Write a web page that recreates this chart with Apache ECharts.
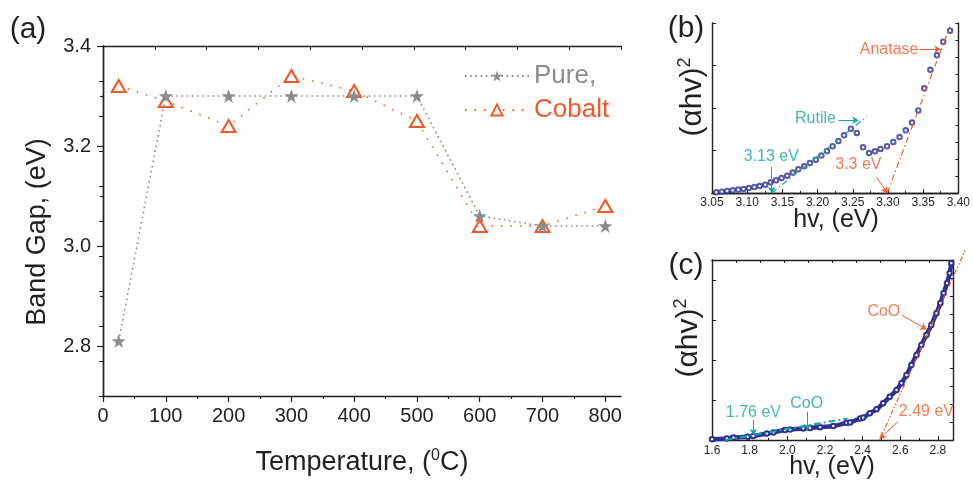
<!DOCTYPE html>
<html><head><meta charset="utf-8">
<script src="https://cdn.jsdelivr.net/npm/echarts@6.0.0/dist/echarts.min.js"></script>
<style>html,body{margin:0;padding:0;background:#fff}#c{width:973px;height:485px}</style>
</head><body><div id="c"></div>
<script>
// ---------- Panel (a) data ----------
const temperatures = [25, 100, 200, 300, 400, 500, 600, 700, 800];
const pureGap   = [2.81, 3.30, 3.30, 3.30, 3.30, 3.30, 3.06, 3.04, 3.04];
const cobaltGap = [3.32, 3.29, 3.24, 3.34, 3.31, 3.25, 3.04, 3.04, 3.08];
const xTicksA = [0, 100, 200, 300, 400, 500, 600, 700, 800];
const xMinorA = [50, 150, 250, 350, 450, 550, 650, 750];
const yTicksA = [2.8, 3.0, 3.2, 3.4];
const yMinorA = [2.7, 2.9, 3.1, 3.3];

// ---------- Panel (b) data ----------
const bHv = [3.0561,3.0640,3.0715,3.0794,3.0873,3.0948,3.1023,3.1102,3.1177,3.1256,3.1335,3.1410,3.1489,3.1569,3.1648,3.1727,3.1811,3.1891,3.1975,3.2054,3.2133,3.2213,3.2297,3.2376,3.2474,3.2558,3.2647,3.2731,3.2815,3.2894,3.2987,3.3076,3.3165,3.3253,3.3342,3.3431,3.3515,3.3603,3.3697,3.3785,3.3883];
const bAbs = [0.04,0.08,0.12,0.16,0.20,0.24,0.29,0.35,0.41,0.49,0.63,0.75,0.88,1.02,1.20,1.39,1.57,1.76,1.96,2.20,2.47,2.75,3.06,3.39,3.78,3.53,2.69,2.35,2.45,2.59,2.75,3.00,3.29,3.69,4.14,4.86,6.16,7.25,8.10,8.90,9.55];
const bRutileFitX = [3.135, 3.27];
const bRutileFitY = [0, 4.5];
const bAnataseFitX = [3.299, 3.388];
const bAnataseFitY = [0, 9.8];
const bLabels = ['Anatase', 'Rutile', '3.13 eV', '3.3 eV'];
const bLabelX = [3.3016, 3.197, 3.1343, 3.258];
const bLabelY = [8.45, 4.38, 2.12, 1.69];
const bArrowFrom = [[3.345, 8.45], [3.2299, 4.28], [3.1348, 1.53], [3.2838, 0.94]];
const bArrowTo   = [[3.3747, 8.45], [3.258, 4.28], [3.1348, 0.0], [3.2992, 0.0]];

// ---------- Panel (c) data ----------
const cHv = [1.600,1.679,1.714,1.789,1.820,1.891,1.926,1.988,2.015,2.085,2.121,2.174,2.244,2.315,2.333,2.387,2.403,2.438,2.474,2.509,2.544,2.580,2.606,2.633,2.659,2.686,2.712,2.739,2.765,2.792,2.813,2.830,2.848,2.862,2.871];
const cAbs = [0.02,0.04,0.06,0.08,0.10,0.16,0.19,0.25,0.26,0.29,0.30,0.32,0.35,0.43,0.44,0.54,0.56,0.67,0.77,0.92,1.08,1.25,1.42,1.625,1.875,2.125,2.375,2.625,2.875,3.17,3.42,3.67,3.92,4.17,4.42];
const cLowFitX = [1.67, 2.32];
const cLowFitY = [0, 0.54];
const cHighFitX = [2.49, 2.947];
const cHighFitY = [0, 4.77];
const cLabels = ['CoO', 'CoO', '1.76 eV', '2.49 eV'];
const cLabelX = [2.5126, 2.103, 1.82, 2.739];
const cLabelY = [3.21, 0.92, 0.68, 0.71];
const cArrowFrom = [[2.606, 3.125], [2.108, 0.71], [1.82, 0.5], [2.588, 0.46]];
const cArrowTo   = [[2.739, 2.77], [2.108, 0.25], [1.82, 0.125], [2.491, 0.04]];
const xTicksC = [1.6, 1.8, 2.0, 2.2, 2.4, 2.6, 2.8];
const xMinorC = [1.7, 1.9, 2.1, 2.3, 2.5, 2.7];

// ---------- styling ----------
const FONT = 'Liberation Sans, Arial, Helvetica, sans-serif';
const GRAY = '#8c8c8e';
const ORANGE = '#f05a28';
const TEAL = '#17a59c';
const BLUE = '#2e3192';
const INK = '#231f20';
const bLabelColors = [ORANGE, TEAL, TEAL, ORANGE];
const cLabelColors = [ORANGE, TEAL, TEAL, ORANGE];
const STAR = 'path://M50,0 L61.8,35.1 L98.9,35.5 L69.1,57.6 L80.2,93 L50,71.6 L19.8,93 L30.9,57.6 L1.1,35.5 L38.2,35.1 Z';

const zip = (a, b) => a.map((v, i) => [v, b[i]]);
const lineAx = { show: true, lineStyle: { color: INK, width: 1.4 } };
const noLine = { show: false };

function frameAxis(extra) {
  return Object.assign({
    type: 'value', min: 0, max: 10, interval: 1,
    axisLine: lineAx, axisLabel: { show: false }, splitLine: { show: false },
    axisTick: { show: true, inside: true, length: 3, lineStyle: { color: INK } }
  }, extra);
}

const xAxis = [
  // (a) bottom
  { gridIndex: 0, type: 'value', min: 0, max: 825, position: 'bottom',
    axisLine: lineAx, splitLine: { show: false },
    axisTick: { show: true, inside: false, length: 6, customValues: xTicksA, lineStyle: { color: INK, width: 1.2 } },
    axisLabel: { customValues: xTicksA, fontSize: 20, margin: 10, color: INK, fontFamily: FONT } },
  { gridIndex: 0, type: 'value', min: 0, max: 825, position: 'bottom',
    axisLine: noLine, splitLine: { show: false }, axisLabel: { show: false },
    axisTick: { show: true, inside: false, length: 3, customValues: xMinorA, lineStyle: { color: INK, width: 1.2 } } },
  frameAxis({ gridIndex: 0, position: 'top', axisTick: { show: true, inside: true, length: 4, lineStyle: { color: INK } } }),
  // (b) bottom
  { gridIndex: 1, type: 'value', min: 3.05, max: 3.40, interval: 0.05, position: 'bottom',
    axisLine: lineAx, splitLine: { show: false },
    axisTick: { show: true, inside: true, length: 4, lineStyle: { color: INK } },
    minorTick: { show: true, splitNumber: 2, length: 2, lineStyle: { color: INK } },
    axisLabel: { fontSize: 12, margin: 4, color: INK, fontFamily: FONT, formatter: v => v.toFixed(2) } },
  frameAxis({ gridIndex: 1, position: 'top', axisTick: { show: false } }),
  // (c) bottom
  { gridIndex: 2, type: 'value', min: 1.6, max: 2.88, position: 'bottom',
    axisLine: lineAx, splitLine: { show: false },
    axisTick: { show: true, inside: true, length: 4, customValues: xTicksC, lineStyle: { color: INK } },
    axisLabel: { customValues: xTicksC, fontSize: 12, margin: 5, color: INK, fontFamily: FONT, formatter: v => v.toFixed(1) } },
  { gridIndex: 2, type: 'value', min: 1.6, max: 2.88, position: 'bottom',
    axisLine: noLine, splitLine: { show: false }, axisLabel: { show: false },
    axisTick: { show: true, inside: true, length: 2, customValues: xMinorC, lineStyle: { color: INK } } },
  frameAxis({ gridIndex: 2, position: 'top' })
];

const yAxis = [
  // (a)
  { gridIndex: 0, type: 'value', min: 2.7, max: 3.4, position: 'left',
    axisLine: lineAx, splitLine: { show: false },
    axisTick: { show: true, inside: false, length: 6, customValues: yTicksA, lineStyle: { color: INK, width: 1.2 } },
    axisLabel: { customValues: yTicksA, fontSize: 20, margin: 12, color: INK, fontFamily: FONT, formatter: v => v.toFixed(1) } },
  { gridIndex: 0, type: 'value', min: 2.7, max: 3.4, position: 'left',
    axisLine: noLine, splitLine: { show: false }, axisLabel: { show: false },
    axisTick: { show: true, inside: false, length: 3, customValues: yMinorA, lineStyle: { color: INK, width: 1.2 } } },
  frameAxis({ gridIndex: 0, position: 'right', axisTick: { show: true, inside: true, length: 4, lineStyle: { color: INK } } }),
  // (b)
  frameAxis({ gridIndex: 1, position: 'left', interval: 2.5, axisTick: { show: true, inside: true, length: 4, lineStyle: { color: INK } } }),
  frameAxis({ gridIndex: 1, position: 'right' }),
  // (c)
  frameAxis({ gridIndex: 2, position: 'left', max: 4.5, interval: 1, axisTick: { show: true, inside: true, length: 4, lineStyle: { color: INK } } }),
  frameAxis({ gridIndex: 2, position: 'right' })
];

function labelSeries(xi, yi, texts, xs, ys, colors) {
  return {
    type: 'scatter', xAxisIndex: xi, yAxisIndex: yi, symbolSize: 0, silent: true, z: 10,
    data: texts.map((t, i) => ({
      value: [xs[i], ys[i], t],
      label: { show: true, position: 'inside', formatter: p => p.value[2], color: colors[i], fontSize: 16, fontFamily: FONT }
    }))
  };
}
function arrowSeries(xi, yi, from, to, colors) {
  return {
    type: 'lines', coordinateSystem: 'cartesian2d', xAxisIndex: xi, yAxisIndex: yi, z: 10,
    symbol: ['none', 'arrow'], symbolSize: 6, silent: true, clip: false,
    data: from.map((f, i) => ({ coords: [f, to[i]], lineStyle: { color: colors[i], width: 1, opacity: 1, curveness: 0 } }))
  };
}
function fitSeries(xi, yi, xs, ys, color, width, dash) {
  return {
    type: 'lines', coordinateSystem: 'cartesian2d', xAxisIndex: xi, yAxisIndex: yi, clip: false, silent: true, z: 6,
    symbol: 'none',
    data: [{ coords: zip(xs, ys) }],
    lineStyle: { color: color, width: width, type: dash, opacity: 1, curveness: 0 }
  };
}

const series = [
  { name: 'Cobalt', type: 'line', xAxisIndex: 0, yAxisIndex: 0, data: zip(temperatures, cobaltGap),
    symbol: 'emptyTriangle', symbolSize: [14, 12], z: 3,
    itemStyle: { color: ORANGE, borderColor: ORANGE, borderWidth: 1.6 },
    lineStyle: { color: ORANGE, width: 1.6, type: [1.5, 8] } },
  { name: 'Pure,', type: 'line', xAxisIndex: 0, yAxisIndex: 0, data: zip(temperatures, pureGap),
    symbol: STAR, symbolSize: 14, z: 4,
    itemStyle: { color: GRAY },
    lineStyle: { color: GRAY, width: 1.6, type: [1.6, 3.6] } },
  // (b)
  fitSeries(3, 3, bRutileFitX, bRutileFitY, TEAL, 1.2, [6, 3, 1.5, 3]),
  fitSeries(3, 3, bAnataseFitX, bAnataseFitY, ORANGE, 1.2, [6, 3, 1.5, 3]),
  { type: 'scatter', xAxisIndex: 3, yAxisIndex: 3, data: zip(bHv, bAbs), symbol: 'emptyCircle', symbolSize: 4.5, z: 5,
    itemStyle: { color: BLUE, borderColor: BLUE, borderWidth: 0.9 } },
  arrowSeries(3, 3, bArrowFrom, bArrowTo, bLabelColors),
  labelSeries(3, 3, bLabels, bLabelX, bLabelY, bLabelColors),
  // (c)
  fitSeries(5, 5, cLowFitX, cLowFitY, TEAL, 2, [7, 3, 2, 3]),
  fitSeries(5, 5, cHighFitX, cHighFitY, ORANGE, 1.2, [5, 2, 1.5, 2, 1.5, 2]),
  { type: 'line', xAxisIndex: 5, yAxisIndex: 5, data: zip(cHv, cAbs), smooth: true, showAllSymbol: true,
    symbol: 'emptyCircle', symbolSize: 4.5, z: 5,
    itemStyle: { color: BLUE, borderColor: BLUE, borderWidth: 1 },
    lineStyle: { color: BLUE, width: 4.5 } },
  arrowSeries(5, 5, cArrowFrom, cArrowTo, cLabelColors),
  labelSeries(5, 5, cLabels, cLabelX, cLabelY, cLabelColors)
];

const titleStyle = (text, size, extra) => Object.assign({ text, font: size + 'px ' + FONT, fill: INK, align: 'center', verticalAlign: 'middle' }, extra || {});
const supTitle = (size, supSize) => ({
  text: '(αhv){sup|2}', fill: INK, align: 'center', verticalAlign: 'middle', fontSize: size, fontFamily: FONT,
  rich: { sup: { fontSize: supSize, fontFamily: FONT, fill: INK, verticalAlign: 'top', lineHeight: size + 4 } }
});
const graphic = [
  { type: 'text', x: 28, y: 30, style: titleStyle('(a)', 30) },
  { type: 'text', x: 686, y: 29, style: titleStyle('(b)', 30) },
  { type: 'text', x: 686, y: 266, style: titleStyle('(c)', 30) },
  { type: 'text', x: 38, y: 232, rotation: Math.PI / 2, style: titleStyle('Band Gap, (eV)', 27) },
  { type: 'text', x: 362, y: 463, style: {
      text: 'Temperature, ({sup|0}C)', fill: INK, align: 'center', verticalAlign: 'middle',
      fontSize: 27, fontFamily: FONT, rich: { sup: { fontSize: 16, fontFamily: FONT, fill: INK, verticalAlign: 'top', lineHeight: 30 } } } },
  { type: 'text', x: 836, y: 220, style: titleStyle('hv, (eV)', 25) },
  { type: 'text', x: 832, y: 467, style: titleStyle('hv, (eV)', 25) },
  { type: 'text', x: 693, y: 97, rotation: Math.PI / 2, style: supTitle(30, 18) },
  { type: 'text', x: 689, y: 338, rotation: Math.PI / 2, style: supTitle(30, 18) }
];

const chart = echarts.init(document.getElementById('c'), null, { renderer: 'canvas' });
chart.setOption({
  backgroundColor: '#fff',
  animation: false,
  grid: [
    { left: 103, top: 46, width: 518, height: 350 },
    { left: 712, top: 23, width: 249, height: 170 },
    { left: 712, top: 260, width: 241, height: 180 }
  ],
  xAxis, yAxis, series, graphic,
  legend: {
    orient: 'vertical', left: 459, top: 58, itemWidth: 64, itemHeight: 14, itemGap: 8, selectedMode: false,
    textStyle: { fontSize: 26, fontFamily: FONT, lineHeight: 26 },
    data: [
      { name: 'Pure,', textStyle: { color: GRAY } },
      { name: 'Cobalt', textStyle: { color: ORANGE } }
    ]
  }
});
</script></body></html>
